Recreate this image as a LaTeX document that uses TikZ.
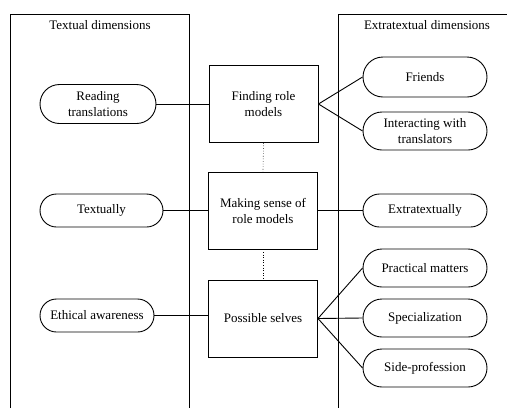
\documentclass[tikz,border=0pt]{standalone}
\usepackage{fontspec}
\setmainfont{Liberation Serif}
\usetikzlibrary{shapes.misc}

\begin{document}
\begin{tikzpicture}[x=1pt,y=-1pt,
  every node/.style={font=\fontsize{13}{16}\selectfont, align=center, inner sep=0pt},
  stage/.style={draw, line width=0.9pt, minimum width=109pt, minimum height=77pt},
  pill/.style={draw, line width=0.9pt, rounded rectangle},
  link/.style={line width=0.9pt}]
  \useasboundingbox (0,0) rectangle (507,408);

  % Draw the two frames
  \draw[line width=0.9pt] (10,408) -- (10,14) -- (189,14) -- (189,408);
  \draw[line width=0.9pt] (507,14) -- (338,14) -- (338,408);
  \node (textdim) at (100,25) {Textual dimensions};
  \node (extradim) at (427,25) {Extratextual dimensions};

  % Draw the middle boxes
  \node[stage] (finding) at (263.5,104) {Finding role\\models};
  \node[stage] (making) at (263,210.5) {Making sense of\\role models};
  \node[stage] (possible) at (263,318.5) {Possible selves};

  % Draw the textual side
  \node[pill, minimum width=116pt, minimum height=39pt] (reading) at (98,104) {Reading\\translations};
  \node[pill, minimum width=123pt, minimum height=33pt] (textually) at (101.5,210.5) {Textually};
  \node[pill, minimum width=114pt, minimum height=33pt] (ethical) at (97,315.5) {Ethical awareness};

  % Draw the extratextual side
  \node[pill, minimum width=124pt, minimum height=40pt] (friends) at (425,77) {Friends};
  \node[pill, minimum width=124pt, minimum height=38pt] (interacting) at (425,131) {Interacting with\\translators};
  \node[pill, minimum width=124pt, minimum height=33pt] (extra) at (425,210.5) {Extratextually};
  \node[pill, minimum width=124pt, minimum height=38pt] (practical) at (425,268) {Practical matters};
  \node[pill, minimum width=124pt, minimum height=38pt] (special) at (425,318) {Specialization};
  \node[pill, minimum width=124pt, minimum height=38pt] (side) at (425,368) {Side-profession};

  % Draw the connectors
  \draw[link] (reading.east) -- (finding.west);
  \draw[link] (textually.east) -- (making.west);
  \draw[link] (ethical.east) -- (possible.west |- ethical.east);
  \draw[link] (finding.east) -- (friends.west);
  \draw[link] (finding.east) -- (interacting.west);
  \draw[link] (making.east) -- (extra.west);
  \draw[link] (possible.east) -- (practical.west);
  \draw[link] (possible.east) -- (special.west);
  \draw[link] (possible.east) -- (side.west);

  % Draw the dotted links
  \draw[dotted, line width=0.6pt] (finding.south) -- (making.north);
  \draw[dotted, line width=0.6pt] (making.south) -- (possible.north);
\end{tikzpicture}
\end{document}
